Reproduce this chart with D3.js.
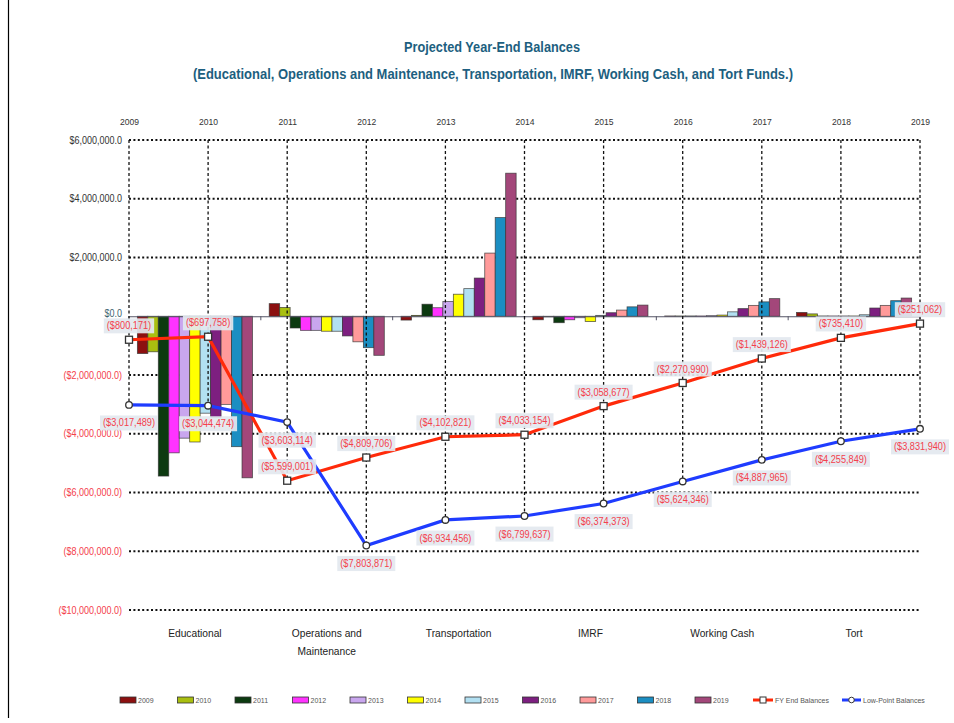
<!DOCTYPE html>
<html><head><meta charset="utf-8">
<script src="https://cdn.jsdelivr.net/npm/d3@7"></script>
<style>
body{margin:0;background:#fff;}
svg{display:block;}
text{font-family:"Liberation Sans",Arial,sans-serif;}
</style></head><body><svg id="chart" width="954" height="723"></svg>
<script>
// ---------- DATA ----------
const years = [2009, 2010, 2011, 2012, 2013, 2014, 2015, 2016, 2017, 2018, 2019];
const funds = ["Educational", "Operations and Maintenance", "Transportation", "IMRF", "Working Cash", "Tort"];

// bar values (dollars), one value per year 2009..2019
const educational      = [-1270000, -1210000, -5440000, -4650000, -4150000, -4280000, -3300000, -3450000, -3000000, -4440000, -5500000];
const operationsMaint  = [430000, 300000, -400000, -480000, -480000, -510000, -510000, -670000, -870000, -1070000, -1330000];
const transportation   = [-130000, 30000, 410000, 290000, 500000, 750000, 940000, 1300000, 2150000, 3360000, 4870000];
const imrf             = [-120000, -20000, -220000, -120000, -50000, -180000, 30000, 120000, 210000, 320000, 380000];
const workingCash      = [10000, 10000, 10000, 10000, 20000, 40000, 150000, 260000, 370000, 490000, 600000];
const tort             = [130000, 80000, 10000, 10000, 10000, 10000, 50000, 280000, 370000, 530000, 620000];

const fyEndBalances    = [-800171, -697758, -5599001, -4809706, -4102821, -4033154, -3058677, -2270990, -1439126, -735410, -251062];
const lowPointBalances = [-3017489, -3044474, -3603114, -7803871, -6934456, -6799637, -6374373, -5624346, -4887965, -4255849, -3831940];

const yTickValues = [6000000, 4000000, 2000000, 0, -2000000, -4000000, -6000000, -8000000, -10000000];

const titleText = "Projected Year-End Balances";
const subtitleText = "(Educational, Operations and Maintenance, Transportation, IMRF, Working Cash, and Tort Funds.)";
const fyLegend = "FY End Balances";
const lowLegend = "Low-Point Balances";

// ---------- STYLE ----------
const barColors = ["#8c1010", "#a9bf10", "#0c3a10", "#ff33ff", "#c9a6ee", "#ffff00", "#b2e0f2", "#7d1f80", "#ff9a9a", "#1b8ec2", "#a3477a"];
const fyColor = "#ff2a0a", lowColor = "#1f3cff";
const labelColor = "#f4404c";

const fundValues = [educational, operationsMaint, transportation, imrf, workingCash, tort];

const svg = d3.select("#chart");
const pL = 129, pR = 920, pT = 140, pB = 610;

// condense a text horizontally (Calibri-like look)
function condense(sel, k) {
  sel.each(function () {
    const len = this.getComputedTextLength();
    d3.select(this).attr("textLength", len * k).attr("lengthAdjust", "spacingAndGlyphs");
  });
}

// left border line
svg.append("line").attr("x1", 8.5).attr("x2", 8.5).attr("y1", 0).attr("y2", 718)
  .attr("stroke", "#000").attr("stroke-width", 1.2);

// titles
svg.append("text").attr("x", 492).attr("y", 52).attr("text-anchor", "middle")
  .attr("font-size", 14.5).attr("font-weight", "bold").attr("fill", "#1d5f80")
  .attr("textLength", 176).attr("lengthAdjust", "spacingAndGlyphs").text(titleText);
svg.append("text").attr("x", 493).attr("y", 79).attr("text-anchor", "middle")
  .attr("font-size", 15).attr("font-weight", "bold").attr("fill", "#1d5f80")
  .attr("textLength", 600).attr("lengthAdjust", "spacingAndGlyphs").text(subtitleText);

// scales
const y = d3.scaleLinear().domain([-10000000, 6000000]).range([pB, pT]);
const xFund = d3.scaleBand().domain(funds).range([pL, pR]).paddingInner(0).paddingOuter(0);
const xYear = d3.scaleBand().domain(years).range([0, xFund.bandwidth()]).paddingInner(0).paddingOuter(0.8);
const xTop = d3.scalePoint().domain(years).range([pL, pR]);

// gridlines
svg.append("g").selectAll("line").data(yTickValues.filter(v => v !== 0)).join("line")
  .attr("x1", pL).attr("x2", pR)
  .attr("y1", d => y(d)).attr("y2", d => y(d))
  .attr("stroke", "#111").attr("stroke-width", 2).attr("stroke-dasharray", "2,2.4");

// y-axis labels
const fmtY = v => v < 0 ? "($" + d3.format(",.1f")(-v) + ")" : "$" + d3.format(",.1f")(v);
const yAxis = d3.axisLeft(y).tickValues(yTickValues).tickFormat(fmtY).tickSize(0).tickPadding(7);
const yG = svg.append("g").attr("transform", `translate(${pL},0)`).call(yAxis);
yG.select(".domain").remove();
yG.selectAll("text").attr("font-size", 10)
  .attr("font-family", '"Liberation Sans",Arial,sans-serif')
  .attr("fill", d => d < 0 ? labelColor : (d === 0 ? "#3d6470" : "#333"))
  .attr("dy", d => d === 0 ? "0.05em" : "0.32em");
condense(yG.selectAll("text"), 0.9);

// top axis (years)
const topAxis = d3.axisTop(xTop).tickSize(0).tickPadding(0);
const tG = svg.append("g").attr("transform", `translate(0,125)`).call(topAxis);
tG.select(".domain").remove();
tG.selectAll("text").attr("font-size", 9.5).attr("fill", "#333")
  .attr("font-family", '"Liberation Sans",Arial,sans-serif');
condense(tG.selectAll("text"), 0.9);

// bars
const barRows = [];
fundValues.forEach((vals, fi) => vals.forEach((v, yi) => barRows.push({fund: funds[fi], year: years[yi], yi, v})));
svg.append("g").selectAll("rect").data(barRows).join("rect")
  .attr("x", d => xFund(d.fund) + xYear(d.year))
  .attr("width", xYear.bandwidth())
  .attr("y", d => y(Math.max(0, d.v)))
  .attr("height", d => Math.abs(y(d.v) - y(0)))
  .attr("fill", d => barColors[d.yi])
  .attr("stroke", "#333").attr("stroke-width", 0.8).attr("stroke-opacity", 0.8);

// category axis (zero line) with boundary ticks
const xAxis = d3.axisBottom(xFund).tickSize(0).tickFormat("");
const xG = svg.append("g").attr("transform", `translate(0,${y(0)})`).call(xAxis);
xG.select(".domain").attr("stroke", "#556").attr("stroke-width", 1);
const boundaries = funds.map(f => xFund(f)).concat([pR]);
xG.selectAll(".bound").data(boundaries).join("line").attr("class", "bound")
  .attr("x1", d => d).attr("x2", d => d).attr("y1", 0).attr("y2", 4)
  .attr("stroke", "#556").attr("stroke-width", 1);

// category labels
const catG = svg.append("g");
funds.forEach(f => {
  const lines = f === "Operations and Maintenance" ? ["Operations and", "Maintenance"] : [f];
  lines.forEach((l, i) => catG.append("text")
    .attr("x", xFund(f) + xFund.bandwidth() / 2).attr("y", 637 + i * 18)
    .attr("text-anchor", "middle").attr("font-size", 11).attr("fill", "#222").text(l));
});
condense(catG.selectAll("text"), 0.93);

// drop lines
svg.append("g").selectAll("line").data(years).join("line")
  .attr("x1", d => xTop(d)).attr("x2", d => xTop(d))
  .attr("y1", pT).attr("y2", (d, i) => Math.max(y(fyEndBalances[i]), y(lowPointBalances[i])))
  .attr("stroke", "#111").attr("stroke-width", 1.3).attr("stroke-dasharray", "3,2.5");

// series lines
const line = d3.line().x((d, i) => xTop(years[i])).y(d => y(d));
svg.append("path").datum(fyEndBalances).attr("d", line).attr("fill", "none")
  .attr("stroke", fyColor).attr("stroke-width", 3.2);
svg.append("path").datum(lowPointBalances).attr("d", line).attr("fill", "none")
  .attr("stroke", lowColor).attr("stroke-width", 3.2);

// markers
svg.append("g").selectAll("rect").data(fyEndBalances).join("rect")
  .attr("x", (d, i) => xTop(years[i]) - 3.5).attr("y", d => y(d) - 3.5)
  .attr("width", 7).attr("height", 7).attr("fill", "#fff").attr("stroke", "#333").attr("stroke-width", 1.3);
svg.append("g").selectAll("circle").data(lowPointBalances).join("circle")
  .attr("cx", (d, i) => xTop(years[i])).attr("cy", d => y(d)).attr("r", 3.3)
  .attr("fill", "#fff").attr("stroke", "#333").attr("stroke-width", 1.3);

// data labels
const fmtL = v => "($" + d3.format(",")(Math.abs(v)) + ")";
const labG = svg.append("g");
function drawLabel(x, cy, txt) {
  const g = labG.append("g");
  const r = g.append("rect");
  const t = g.append("text").attr("x", x).attr("y", cy).attr("dy", "0.35em")
    .attr("text-anchor", "middle").attr("font-size", 10.2).attr("fill", labelColor).text(txt);
  condense(t, 0.9);
  const bb = t.node().getBBox();
  r.attr("x", bb.x - 3).attr("y", bb.y - 2).attr("width", bb.width + 6).attr("height", bb.height + 4)
    .attr("fill", "#e3e8ef").attr("fill-opacity", 0.92);
}
fyEndBalances.forEach((v, i) => drawLabel(xTop(years[i]), y(v) - 14, fmtL(v)));
lowPointBalances.forEach((v, i) => drawLabel(xTop(years[i]), y(v) + 18, fmtL(v)));

// legend
const legG = svg.append("g");
years.forEach((yr, i) => {
  const lx = 120 + i * 57.5;
  legG.append("rect").attr("x", lx).attr("y", 697).attr("width", 16).attr("height", 6)
    .attr("fill", barColors[i]).attr("stroke", "#333").attr("stroke-width", 0.8);
  legG.append("text").attr("x", lx + 18).attr("y", 703).attr("font-size", 7).attr("fill", "#555").text(yr);
});
legG.append("line").attr("x1", 753).attr("x2", 773).attr("y1", 700).attr("y2", 700).attr("stroke", fyColor).attr("stroke-width", 3);
legG.append("rect").attr("x", 760).attr("y", 697).attr("width", 6).attr("height", 6).attr("fill", "#fff").attr("stroke", "#333").attr("stroke-width", 1);
legG.append("text").attr("x", 775).attr("y", 703).attr("font-size", 7).attr("fill", "#555").text(fyLegend);
legG.append("line").attr("x1", 842).attr("x2", 861).attr("y1", 700).attr("y2", 700).attr("stroke", lowColor).attr("stroke-width", 3);
legG.append("circle").attr("cx", 851.5).attr("cy", 700).attr("r", 2.8).attr("fill", "#fff").attr("stroke", "#333").attr("stroke-width", 1);
legG.append("text").attr("x", 863).attr("y", 703).attr("font-size", 7).attr("fill", "#555").text(lowLegend);
</script></body></html>
